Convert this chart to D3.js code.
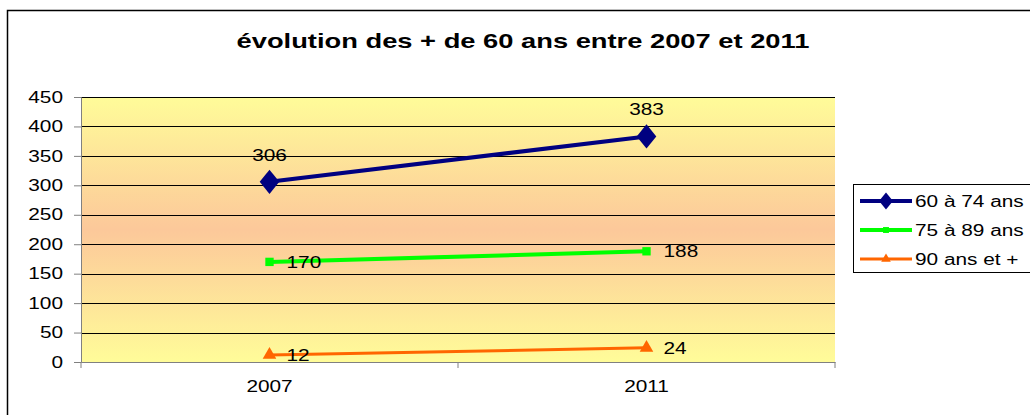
<!DOCTYPE html>
<html>
<head>
<meta charset="utf-8">
<script src="https://cdn.jsdelivr.net/npm/d3@7"></script>
<style>
  body { margin: 0; background: #fff; }
  text { font-family: "Liberation Sans", Arial, sans-serif; }
</style>
</head>
<body>
<div id="chart"></div>
<script>
const years = ["2007", "2011"];
const serie1 = [306, 383];   // 60 à 74 ans
const serie2 = [170, 188];   // 75 à 89 ans
const serie3 = [12, 24];     // 90 ans et +
const seriesNames = ["60 à 74 ans", "75 à 89 ans", "90 ans et +"];
const yTicks = [0, 50, 100, 150, 200, 250, 300, 350, 400, 450];

const width = 1030, height = 415;
const plot = { left: 81, right: 835, top: 97, bottom: 362 };
const stretchX = 1.3;  // le graphique d'origine est étiré en largeur

// étire le texte horizontalement
function stretch(sel) {
    sel.each(function () {
        const w = this.getComputedTextLength();
        d3.select(this)
            .attr("textLength", w * stretchX)
            .attr("lengthAdjust", "spacingAndGlyphs");
    });
}

const svg = d3.select("#chart").append("svg")
    .attr("width", width)
    .attr("height", height);

// cadre extérieur
svg.append("rect")
    .attr("x", 7.5).attr("y", 10.5)
    .attr("width", 1040).attr("height", 420)
    .attr("fill", "none")
    .attr("stroke", "#000")
    .attr("stroke-width", 1.5);

svg.append("text")
    .attr("x", 523).attr("y", 48)
    .attr("text-anchor", "middle")
    .attr("font-size", "21px")
    .attr("font-weight", "bold")
    .text("évolution des + de 60 ans entre 2007 et 2011")
    .call(stretch);

const x = d3.scaleBand().domain(years).range([plot.left, plot.right]);
const y = d3.scaleLinear().domain([0, 450]).range([plot.bottom, plot.top]);

// fond dégradé
const defs = svg.append("defs");
const grad = defs.append("linearGradient")
    .attr("id", "bg").attr("x1", 0).attr("y1", 0).attr("x2", 0).attr("y2", 1);
grad.append("stop").attr("offset", "0%").attr("stop-color", "#FFFC99");
grad.append("stop").attr("offset", "50%").attr("stop-color", "#FCC89A");
grad.append("stop").attr("offset", "100%").attr("stop-color", "#FFFC99");

svg.append("rect")
    .attr("x", plot.left).attr("y", plot.top)
    .attr("width", plot.right - plot.left)
    .attr("height", plot.bottom - plot.top)
    .attr("fill", "url(#bg)");

// quadrillage
svg.append("g")
    .selectAll("line")
    .data(yTicks.filter(d => d > 0))
    .join("line")
    .attr("x1", plot.left).attr("x2", plot.right)
    .attr("y1", d => Math.round(y(d)) + 0.5)
    .attr("y2", d => Math.round(y(d)) + 0.5)
    .attr("stroke", "#000")
    .attr("stroke-width", 1);

// axe Y
const yAxis = svg.append("g")
    .attr("transform", `translate(${plot.left},0)`)
    .call(d3.axisLeft(y).tickValues(yTicks).tickSize(7).tickPadding(11));
yAxis.select(".domain").attr("stroke", "#808080");
yAxis.selectAll(".tick line").attr("stroke", "#808080");
yAxis.selectAll("text").attr("font-size", "16px").attr("fill", "#000")
    .attr("font-family", "'Liberation Sans', Arial, sans-serif")
    .call(stretch);

// axe X
const xAxis = svg.append("g")
    .attr("transform", `translate(0,${plot.bottom})`)
    .call(d3.axisBottom(x).tickSize(0).tickPadding(19));
xAxis.select(".domain").attr("stroke", "#808080");
xAxis.selectAll("text").attr("font-size", "16px").attr("fill", "#000")
    .attr("font-family", "'Liberation Sans', Arial, sans-serif")
    .call(stretch);
// graduations entre catégories
const bounds = [plot.left, plot.left + x.bandwidth(), plot.right];
svg.append("g").selectAll("line")
    .data(bounds)
    .join("line")
    .attr("x1", d => d).attr("x2", d => d)
    .attr("y1", plot.bottom).attr("y2", plot.bottom + 6)
    .attr("stroke", "#808080");

const cx = d => x(d) + x.bandwidth() / 2;

const series = [
    { name: seriesNames[0], values: serie1, color: "#000080", width: 4, symbol: d3.symbolDiamond, size: 170, label: "top" },
    { name: seriesNames[1], values: serie2, color: "#00FF00", width: 4, symbol: d3.symbolSquare, size: 70, label: "right" },
    { name: seriesNames[2], values: serie3, color: "#FF6600", width: 3, symbol: d3.symbolTriangle, size: 80, label: "right" }
];

const line = d3.line().x(d => cx(d.year)).y(d => y(d.v));

series.forEach(s => {
    const pts = years.map((yr, i) => ({ year: yr, v: s.values[i] }));
    svg.append("path")
        .attr("d", line(pts))
        .attr("fill", "none")
        .attr("stroke", s.color)
        .attr("stroke-width", s.width);

    svg.append("g").selectAll("path")
        .data(pts)
        .join("path")
        .attr("transform", d => `translate(${cx(d.year)},${y(d.v)})` + (s.label === "top" ? " scale(1.4,1)" : ""))
        .attr("d", d3.symbol().type(s.symbol).size(s.size))
        .attr("fill", s.color);

    svg.append("g").selectAll("text")
        .data(pts)
        .join("text")
        .attr("x", d => s.label === "top" ? cx(d.year) : cx(d.year) + 17)
        .attr("y", d => s.label === "top" ? y(d.v) - 21 : y(d.v) + 6)
        .attr("text-anchor", s.label === "top" ? "middle" : "start")
        .attr("font-size", "16px")
        .text(d => d.v)
        .call(stretch);
});

// légende
const legend = svg.append("g");
legend.append("rect")
    .attr("x", 853.5).attr("y", 184.5)
    .attr("width", 200).attr("height", 88)
    .attr("fill", "#fff")
    .attr("stroke", "#000");

series.forEach((s, i) => {
    const ly = 201 + i * 29;
    legend.append("line")
        .attr("x1", 860).attr("x2", 912)
        .attr("y1", ly).attr("y2", ly)
        .attr("stroke", s.color)
        .attr("stroke-width", s.width);
    legend.append("path")
        .attr("transform", `translate(886,${ly})` + (i === 0 ? " scale(1.4,1)" : ""))
        .attr("d", d3.symbol().type(s.symbol).size(s.size * 0.5))
        .attr("fill", s.color);
    legend.append("text")
        .attr("x", 915).attr("y", ly + 6)
        .attr("font-size", "16px")
        .text(s.name)
        .call(stretch);
});
</script>
</body>
</html>
